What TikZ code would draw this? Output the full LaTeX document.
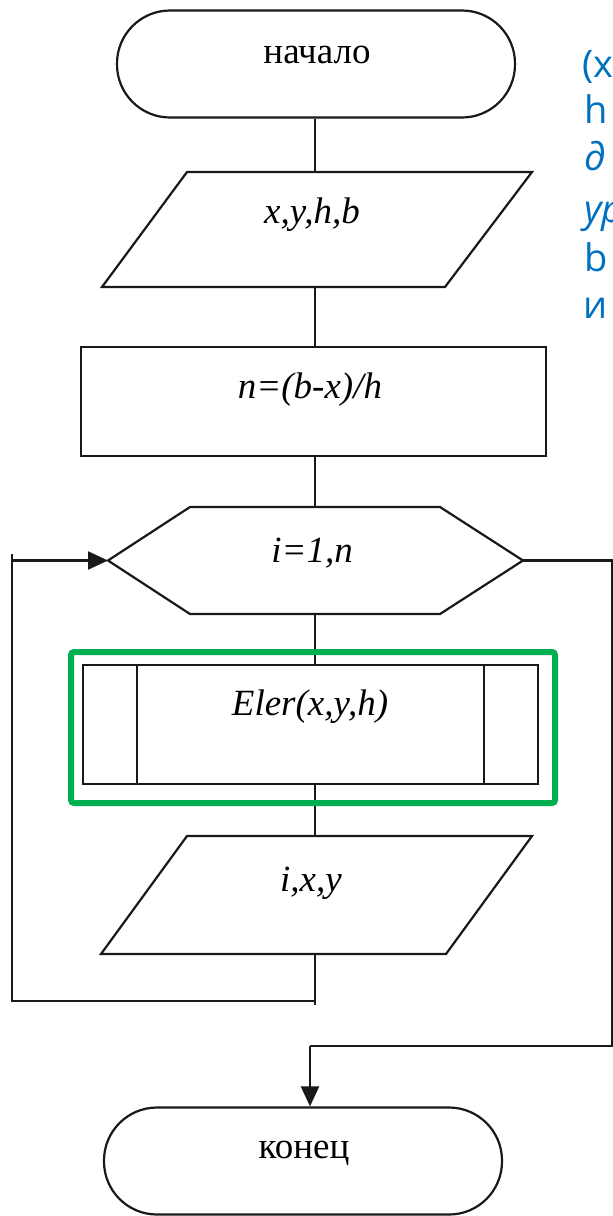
\documentclass[tikz,border=0pt]{standalone}
\usepackage{fontspec}
\setmainfont{Liberation Serif}
\newfontfamily\bluefont{Open Sans}
\usetikzlibrary{arrows.meta,calc}
\definecolor{noteblue}{RGB}{0,112,192}
\definecolor{boxgreen}{RGB}{0,176,80}
\begin{document}
\begin{tikzpicture}[x=1pt,y=-1pt,
  line/.style={line width=2.2pt, draw=black!90},
  term/.style={line, rounded corners=53pt, minimum width=398pt, minimum height=107pt, inner sep=0pt},
  ghost/.style={inner sep=0pt, outer sep=0pt},
  lbl/.style={font=\fontsize{37}{40}\selectfont\itshape, inner sep=0pt},
  ulbl/.style={font=\fontsize{37}{40}\selectfont, inner sep=0pt},
  arr/.style={line, -{Triangle[length=20pt,width=18pt]}},
  note/.style={font=\bluefont\fontsize{38}{40}\selectfont, text=noteblue, anchor=base west, inner sep=0pt}]
\useasboundingbox (0,0) rectangle (613,1216);
\clip (0,0) rectangle (613,1216);
\fill[white] (0,0) rectangle (613,1216);

\coordinate (c) at (315,0);

% start terminal
\node[term] (start) at (316,64) {};
\node[ulbl] (tstart) at (317,55) {начало};

% input parallelogram
\node[ghost, minimum width=430pt, minimum height=115pt] (p1) at (317,229.5) {};
\draw[line] (p1.south west) -- ++(343,0) -- (p1.north east) -- ++(-345,0) -- cycle;
\node[lbl] (tp1) at (312,215) {x,y,h,b};

% process
\node[line, draw, minimum width=465pt, minimum height=109pt] (r) at (313.5,401.5) {};
\node[lbl] (tr) at (310,390) {n=(b-x)/h};

% loop hexagon
\node[ghost, minimum width=415pt, minimum height=107pt] (hex) at (315.5,560.5) {};
\draw[line] (hex.west) -- ($(hex.north west)+(82,0)$) -- ($(hex.north east)+(-83,0)$) -- (hex.east)
  -- ($(hex.south east)+(-83,0)$) -- ($(hex.south west)+(82,0)$) -- cycle;
\node[lbl] (thex) at (312,553) {i=1,n};

% predefined process
\node[line, draw, minimum width=455pt, minimum height=119pt] (proc) at (310.5,724.5) {};
\draw[line] ($(proc.north west)+(55,0)$) -- ($(proc.south west)+(55,0)$);
\draw[line] ($(proc.north east)+(-55,0)$) -- ($(proc.south east)+(-55,0)$);
\node[lbl] (tproc) at (310,707) {Eler(x,y,h)};

% output parallelogram
\node[ghost, minimum width=431pt, minimum height=118pt] (p2) at (316.5,895) {};
\draw[line] (p2.south west) -- ++(345,0) -- (p2.north east) -- ++(-345,0) -- cycle;
\node[lbl] (tp2) at (311,883) {i,x,y};

% end terminal
\node[term] (end) at (303,1161) {};
\node[ulbl] (tend) at (304,1153) {конец};

% connectors
\draw[line] (c |- start.south) -- (c |- p1.north);
\draw[line] (c |- p1.south) -- (c |- r.north);
\draw[line] (c |- r.south) -- (c |- hex.north);
\draw[line] (c |- hex.south) -- (c |- proc.north);
\draw[line] (c |- proc.south) -- (c |- p2.north);

\coordinate (lb) at (315,1001);
\coordinate (ll) at (12,1001);
\draw[line] (c |- p2.south) -- ($(lb)+(0,4)$);
\draw[line] (lb) -- (ll) -- ($(ll |- hex.west)+(0,-7)$);
\draw[arr] (ll |- hex.west) -- (hex.west);

\coordinate (rr) at (612,1046);
\coordinate (ex) at (310,1046);
\draw[line] (hex.east) -- (rr |- hex.east) -- (rr) -- (ex);
\draw[arr] (ex) -- (ex |- end.north);

% highlight
\node[draw=boxgreen, line width=6pt, rounded corners=3pt, minimum width=484pt, minimum height=151pt, inner sep=0pt] (hl) at (313,727.5) {};

% notes, cut off at the right edge as in the reference
\node[note] (n1) at (582,77) {(x};
\node[note] (n2) at (584,123) {h};
\node[note] (n3) at (584,170) {\itshape д};
\node[note] (n4) at (584,222) {\itshape ур};
\node[note] (n5) at (584,271) {b};
\node[note] (n6) at (583,318) {и};
\end{tikzpicture}
\end{document}
